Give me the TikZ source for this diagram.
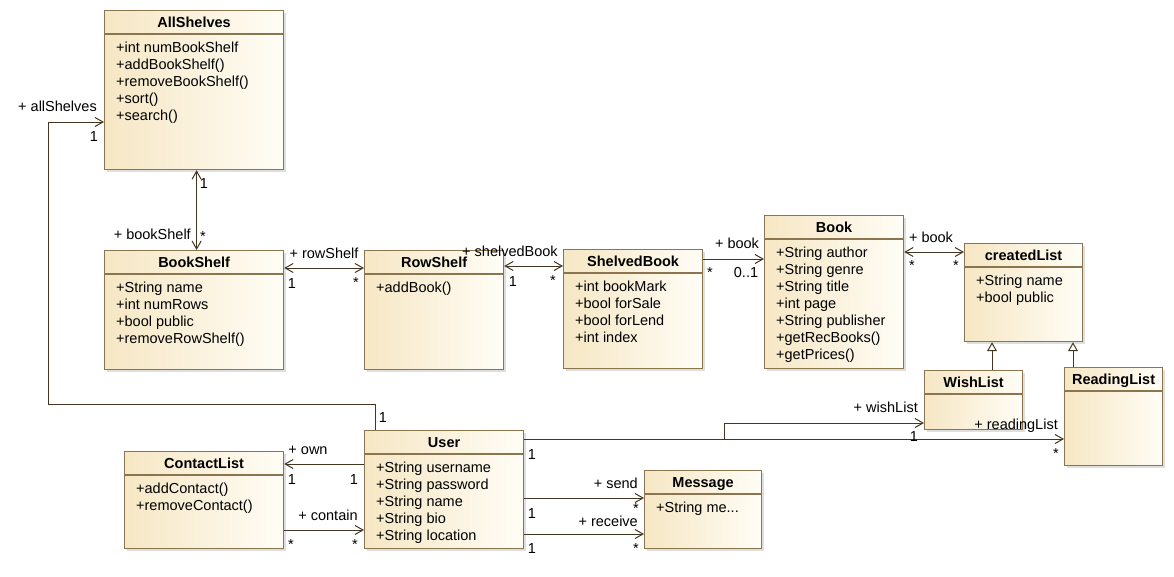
\documentclass[tikz,border=0pt]{standalone}
\usepackage{fontspec}
\setmainfont{Liberation Sans}
\usetikzlibrary{arrows.meta,shadows}

\definecolor{umlborder}{RGB}{139,117,79}
\definecolor{umlline}{RGB}{66,54,34}
\definecolor{umlfill}{RGB}{246,231,196}
\definecolor{umlfillright}{RGB}{255,253,246}

\newcommand{\umlsize}{\fontsize{14.5}{17}\selectfont}
\newcommand{\elide}{...}

\tikzset{
    classbox/.style={draw=umlborder, line width=1.2pt, left color=umlfill, right color=umlfillright,
        anchor=north west, inner sep=0pt, drop shadow={shadow xshift=2pt, shadow yshift=-2pt, opacity=0.25}},
    classname/.style={font=\umlsize\bfseries, anchor=base, inner sep=0pt},
    member/.style={anchor=base west, inner sep=0pt},
    lbl/.style={anchor=base, inner sep=0pt},
    assoc/.style={draw=umlline, line width=1pt, ->},
    both/.style={draw=umlline, line width=1pt, <->},
    inherit/.style={draw=umlline, line width=1pt, -{Triangle[open, length=9pt, width=10pt, fill=white]}}
}

% class box: name, top left, width, height, title, members
\newcommand{\umlclass}[6]{%
    \node[classbox, minimum width=#3, minimum height=#4] (#1) at (#2) {};
    \draw[umlborder, line width=1.2pt] ([yshift=-24pt]#1.north west) -- ([yshift=-24pt]#1.north east);
    \node[classname] (#1-name) at ([yshift=-17pt]#1.north) {#5};
    \foreach \m [count=\i] in {#6} {
        \node[member] (#1-m\i) at ([xshift=12pt, yshift=-25pt-17pt*\i]#1.north west) {\m};
    }
}

\begin{document}
\begin{tikzpicture}[x=1pt, y=-1pt, font=\umlsize, >={Straight Barb[length=8pt, width=9pt]}]
    \useasboundingbox (0,0) rectangle (1174,576);

    % classes
    \umlclass{allshelves}{104,10}{179pt}{159pt}{AllShelves}{+int numBookShelf,+addBookShelf(),+removeBookShelf(),+sort(),+search()}
    \umlclass{bookshelf}{104,250}{179pt}{119pt}{BookShelf}{+String name,+int numRows,+bool public,+removeRowShelf()}
    \umlclass{rowshelf}{364,250}{139pt}{119pt}{RowShelf}{+addBook()}
    \umlclass{shelvedbook}{563,249}{139pt}{119pt}{ShelvedBook}{+int bookMark,+bool forSale,+bool forLend,+int index}
    \umlclass{book}{764,215}{139pt}{153pt}{Book}{+String author,+String genre,+String title,+int page,+String publisher,+getRecBooks(),+getPrices()}
    \umlclass{createdlist}{964,243}{118pt}{98pt}{createdList}{+String name,+bool public}
    \umlclass{wishlist}{924,370}{98pt}{59pt}{WishList}{}
    \umlclass{readinglist}{1064,367}{98pt}{98pt}{ReadingList}{}
    \umlclass{user}{364,430}{159pt}{118pt}{User}{+String username,+String password,+String name,+String bio,+String location}
    \umlclass{contactlist}{124,451}{159pt}{97pt}{ContactList}{+addContact(),+removeContact()}
    \umlclass{message}{644,470}{117pt}{78pt}{Message}{+String me\elide}

    % associations
    \coordinate (shelvesbend) at (48,404);
    \draw[assoc] ([xshift=11pt]user.north west) |- (shelvesbend) |- ([yshift=-112pt]allshelves.north west);
    \draw[both] ([xshift=2.5pt]allshelves.south) -- ([xshift=2.5pt]bookshelf.north);
    \draw[both] ([yshift=-18pt]bookshelf.north east) -- ([yshift=-18pt]rowshelf.north west);
    \draw[both] ([yshift=-16pt]rowshelf.north east) -- ([yshift=-17pt]shelvedbook.north west);
    \draw[assoc] ([yshift=-10pt]shelvedbook.north east) -- ([yshift=-44pt]book.north west);
    \draw[both] ([yshift=-37pt]book.north east) -- ([yshift=-9pt]createdlist.north west);
    \draw[inherit] ([xshift=68pt]wishlist.north west) -- ([xshift=28pt]createdlist.south west);
    \draw[inherit] ([xshift=9pt]readinglist.north west) -- ([xshift=109pt]createdlist.south west);
    \coordinate (wishbend) at (724,439);
    \draw[assoc] ([yshift=-9pt]user.north east) -- ([yshift=-72pt]readinglist.north west);
    \draw[assoc] ([yshift=-9pt]user.north east) -- (wishbend) |- ([yshift=-53pt]wishlist.north west);
    \draw[assoc] ([yshift=-34pt]user.north west) -- ([yshift=-13pt]contactlist.north east);
    \draw[assoc] ([yshift=-79pt]contactlist.north east) -- ([yshift=-100pt]user.north west);
    \draw[assoc] ([yshift=-68pt]user.north east) -- ([yshift=-28pt]message.north west);
    \draw[assoc] ([yshift=-104pt]user.north east) -- ([yshift=-64pt]message.north west);

    % role names and multiplicities
    \node[lbl, anchor=base east] (l-allshelves) at (97,111) {+ allShelves};
    \node[lbl] (m-allshelves) at (94,141) {1};
    \node[lbl] (m-userall) at (383,422) {1};
    \node[lbl] (m-shelvestop) at (204,188) {1};
    \node[lbl, anchor=base east] (l-bookshelf) at (191,239) {+ bookShelf};
    \node[lbl] (m-bookshelf) at (203,241) {*};
    \node[lbl] (l-rowshelf) at (324,258) {+ rowShelf};
    \node[lbl] (m-rowshelfa) at (292,288) {1};
    \node[lbl] (m-rowshelfb) at (356,287) {*};
    \node[lbl] (l-shelvedbook) at (510,256) {+ shelvedBook};
    \node[lbl] (m-shelvedbooka) at (513,286) {1};
    \node[lbl] (m-shelvedbookb) at (553,285) {*};
    \node[lbl] (l-book) at (737,248) {+ book};
    \node[lbl] (m-booka) at (710,277) {*};
    \node[lbl] (m-bookb) at (746,277) {0..1};
    \node[lbl] (l-listbook) at (931,242) {+ book};
    \node[lbl] (m-listbooka) at (912,270) {*};
    \node[lbl] (m-listbookb) at (956,270) {*};
    \node[lbl, anchor=base east] (l-wishlist) at (918,412) {+ wishList};
    \node[lbl, anchor=base east] (l-readinglist) at (1058,429) {+ readingList};
    \node[lbl] (m-wishlist) at (914,441) {1};
    \node[lbl] (m-readinglist) at (1056,458) {*};
    \node[lbl] (m-userlists) at (532,459) {1};
    \node[lbl] (l-own) at (308,454) {+ own};
    \node[lbl] (m-owna) at (292,484) {1};
    \node[lbl] (m-ownb) at (354,484) {1};
    \node[lbl] (l-contain) at (328,520) {+ contain};
    \node[lbl] (m-containa) at (291,549) {*};
    \node[lbl] (m-containb) at (355,549) {*};
    \node[lbl, anchor=base east] (l-send) at (638,488) {+ send};
    \node[lbl] (m-senda) at (532,518) {1};
    \node[lbl] (m-sendb) at (636,513) {*};
    \node[lbl, anchor=base east] (l-receive) at (638,526) {+ receive};
    \node[lbl] (m-receivea) at (532,553) {1};
    \node[lbl] (m-receiveb) at (636,553) {*};
\end{tikzpicture}
\end{document}
